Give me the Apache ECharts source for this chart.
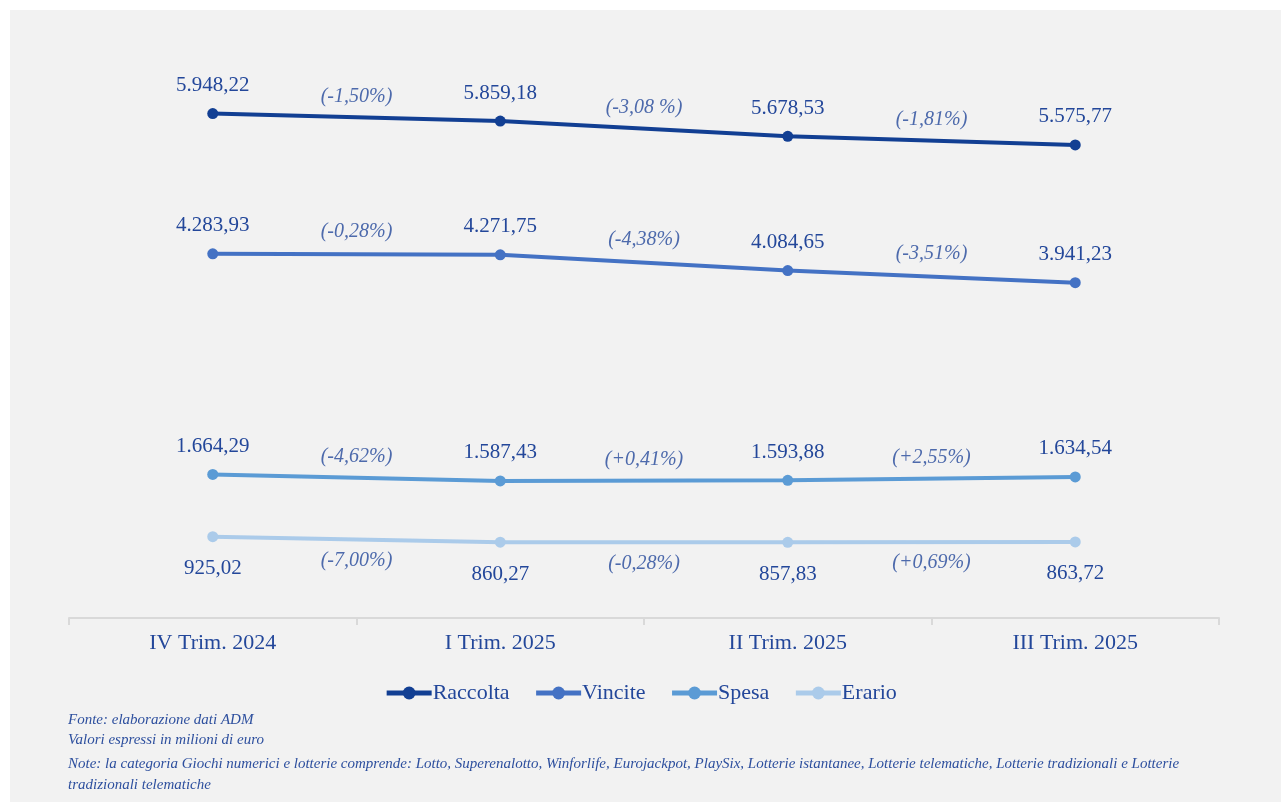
<!DOCTYPE html>
<html><head><meta charset="utf-8">
<script src="https://cdn.jsdelivr.net/npm/echarts@6/dist/echarts.min.js"></script>
<style>html,body{margin:0;padding:0;background:#fff;}#c{width:1281px;height:802px;}</style>
</head><body><div id="c"></div>
<script>
const categories = ['IV Trim. 2024', 'I Trim. 2025', 'II Trim. 2025', 'III Trim. 2025'];
const raccolta = [5948.22, 5859.18, 5678.53, 5575.77];
const vincite = [4283.93, 4271.75, 4084.65, 3941.23];
const spesa = [1664.29, 1587.43, 1593.88, 1634.54];
const erario = [925.02, 860.27, 857.83, 863.72];
const raccoltaPct = ['(-1,50%)', '(-3,08 %)', '(-1,81%)'];
const vincitePct = ['(-0,28%)', '(-4,38%)', '(-3,51%)'];
const spesaPct = ['(-4,62%)', '(+0,41%)', '(+2,55%)'];
const erarioPct = ['(-7,00%)', '(-0,28%)', '(+0,69%)'];
const notes = [
  'Fonte: elaborazione dati ADM',
  'Valori espressi in milioni di euro',
  'Note: la categoria Giochi numerici e lotterie comprende: Lotto, Superenalotto, Winforlife, Eurojackpot, PlaySix, Lotterie istantanee, Lotterie telematiche, Lotterie tradizionali e Lotterie',
  'tradizionali telematiche'
];

const FONT = '"Liberation Serif", "DejaVu Serif", serif';
const TXT = '#23479a';

function fmt(v) {
  const parts = v.toFixed(2).split('.');
  const intp = parts[0].replace(/\B(?=(\d{3})+(?!\d))/g, '.');
  return intp + ',' + parts[1];
}

function lineSeries(name, data, color, below) {
  return {
    name: name, type: 'line', data: data, xAxisIndex: 0,
    symbol: 'circle', symbolSize: 11,
    lineStyle: { width: 4, color: color },
    itemStyle: { color: color },
    label: {
      show: true, position: below ? 'bottom' : 'top', distance: below ? 16 : 12,
      formatter: p => fmt(p.value),
      fontFamily: FONT, fontSize: 21, color: TXT
    },
    z: 3
  };
}
function pctSeries(values, labels, offY) {
  const d = labels.map((l, i) => ({ value: [i + 1, (values[i] + values[i + 1]) / 2], lbl: l }));
  return {
    type: 'scatter', xAxisIndex: 1, data: d, symbolSize: 0, silent: true,
    label: {
      show: true, position: 'inside', offset: [0, offY],
      formatter: p => p.data.lbl,
      fontFamily: FONT, fontSize: 20, fontStyle: 'italic', color: TXT
    },
    z: 4
  };
}

const chart = echarts.init(document.getElementById('c'));
chart.setOption({
  animation: false,
  backgroundColor: '#ffffff',
  graphic: [
    { type: 'rect', shape: { x: 10, y: 10, width: 1271, height: 792 }, style: { fill: '#f2f2f2' }, z: -10, silent: true }
  ].concat(notes.map((t, i) => ({
    type: 'text', left: 68, top: 713 + [0, 20, 44, 65][i],
    style: { text: t, fontFamily: FONT, fontSize: 15, fontStyle: 'italic', fill: '#2d4f9e' }, z: 5
  }))),
  grid: { left: 69, right: 62, top: 25, bottom: 184 },
  legend: {
    data: ['Raccolta', 'Vincite', 'Spesa', 'Erario'],
    bottom: 93, left: 'center',
    itemWidth: 45, itemHeight: 16, itemGap: 24,
    lineStyle: { width: 5 },
    textStyle: { fontFamily: FONT, fontSize: 22, color: TXT, padding: [0, 0, 0, -4] }
  },
  xAxis: [{
    type: 'category', data: categories, boundaryGap: true,
    axisLine: { onZero: false, lineStyle: { color: '#d9d9d9', width: 2 } },
    axisTick: { show: true, length: 7, lineStyle: { color: '#d9d9d9', width: 2 } },
    axisLabel: { fontFamily: FONT, fontSize: 22, color: TXT, margin: 14 },
    splitLine: { show: false }
  }, {
    type: 'value', min: 0, max: 4, show: false, position: 'bottom'
  }],
  yAxis: { type: 'value', min: -40, max: 7000, show: false, splitLine: { show: false } },
  series: [
    lineSeries('Raccolta', raccolta, '#123f93', false),
    lineSeries('Vincite', vincite, '#4472c4', false),
    lineSeries('Spesa', spesa, '#5b9bd5', false),
    lineSeries('Erario', erario, '#abcbea', true),
    pctSeries(raccolta, raccoltaPct, -21),
    pctSeries(vincite, vincitePct, -23),
    pctSeries(spesa, spesaPct, -21),
    pctSeries(erario, erarioPct, 21)
  ]
});
</script></body></html>
